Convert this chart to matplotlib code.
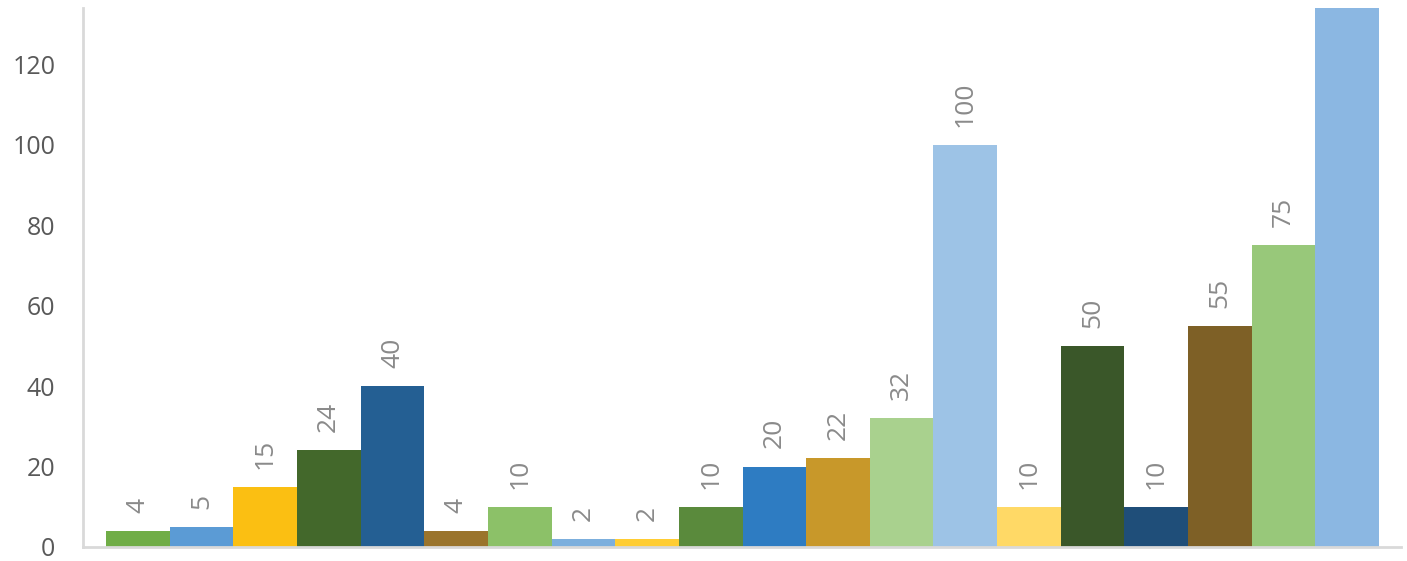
import matplotlib
matplotlib.use("Agg")
import matplotlib.pyplot as plt

values = [4, 5, 15, 24, 40, 4, 10, 2, 2, 10, 20, 22, 32, 100, 10, 50, 10, 55, 75, 150]
colors = ["#70AD47", "#5B9BD5", "#FBBF12", "#43682B", "#245F93", "#9A742C", "#8CC168",
          "#7CAFDD", "#FFCD33", "#5A8A3C", "#2E7CC2", "#C8982A", "#A9D18E", "#9DC3E6",
          "#FFD966", "#3A5729", "#1F4E79", "#7E6026", "#98C87A", "#8BB7E2"]
yticks = [0, 20, 40, 60, 80, 100, 120]

plt.rcParams['font.family'] = ['Open Sans', 'DejaVu Sans']
fig = plt.figure(figsize=(14.07, 5.61), dpi=100)
ax = fig.add_axes([0.059, 0.025, 0.937, 0.961])
x = list(range(len(values)))
bars = ax.bar(x, values, width=1.0, color=colors, linewidth=0)
for xi, v in zip(x, values):
    ax.annotate(str(v), (xi, v), xytext=(0, 13), textcoords="offset points",
                rotation=90, ha="center", va="bottom", fontsize=19, color="#8a8a8a",
                annotation_clip=True)
ax.set_ylim(0, 134)
ax.set_xlim(-0.86, 19.85)
ax.set_yticks(yticks)
ax.set_yticklabels([str(t) for t in yticks], fontsize=18, color="#595959")
ax.set_xticks([])
ax.tick_params(axis="y", length=0, pad=20)
for s in ["top", "right"]:
    ax.spines[s].set_visible(False)
for s in ["left", "bottom"]:
    ax.spines[s].set_color("#d9d9d9")
    ax.spines[s].set_linewidth(2)
fig.savefig("out.png", dpi=100)
